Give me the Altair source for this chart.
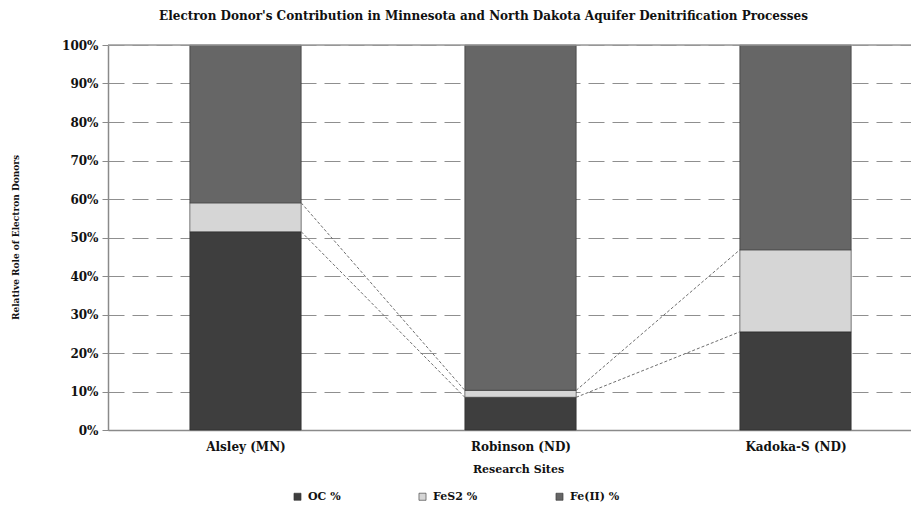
import json
import altair as alt
import pandas as pd

# ---- data ----
sites = ["Alsley (MN)", "Robinson (ND)", "Kadoka-S (ND)"]
series = ["OC %", "FeS2 %", "Fe(II) %"]
oc = [51.5, 8.5, 25.5]
fes2 = [7.5, 1.8, 21.3]
fe2 = [41.0, 89.7, 53.2]
y_ticks = [0, 10, 20, 30, 40, 50, 60, 70, 80, 90, 100]

# ---- styles ----
colors = ["#3e3e3e", "#d6d6d6", "#666666"]
HW = 0.2025  # half bar width in category units
FONT = "DejaVu Serif"

values = [oc, fes2, fe2]
rows = []
tops = []
for i, s in enumerate(sites):
    base = 0.0
    t = []
    for k, name in enumerate(series):
        v = values[k][i]
        rows.append({"site": s, "idx": i, "x0": i - HW, "x1": i + HW,
                     "series": name, "order": k, "y0": base, "y1": base + v})
        base += v
        t.append(base)
    tops.append(t)
bars = pd.DataFrame(rows)

lines = []
for i in range(len(sites) - 1):
    for k in range(len(series) - 1):
        lines.append({"x0": i + HW, "x1": i + 1 - HW,
                      "y0": tops[i][k], "y1": tops[i + 1][k]})
lines = pd.DataFrame(lines)

xscale = alt.Scale(domain=[-0.5, 2.42], nice=False, zero=False)
yscale = alt.Scale(domain=[0, 100], nice=False)

label_expr = json.dumps(sites) + "[datum.value]"

xaxis = alt.Axis(values=[0, 1, 2], labelExpr=label_expr, grid=False, ticks=False,
                 domainColor="#8a8a8a", domainWidth=1.5,
                 labelFont=FONT, labelFontWeight="bold", labelFontSize=12,
                 labelColor="#111", labelPadding=11,
                 title="Research Sites", titleFont=FONT, titleFontWeight="bold",
                 titleFontSize=11, titleColor="#111", titleX=410, titleY=39,
                 titleBaseline="middle")
yaxis = alt.Axis(values=y_ticks, labelExpr="datum.value + '%'", labelOverlap=False,
                 grid=True, gridDash=[16, 8], gridColor="#8f8f8f", gridWidth=1,
                 domainColor="#8a8a8a", domainWidth=1.5,
                 tickColor="#8a8a8a", tickSize=6,
                 labelFont=FONT, labelFontWeight="bold", labelFontSize=12,
                 labelColor="#111", labelPadding=4,
                 title="Relative Role of Electron Donors", titleFont=FONT,
                 titleFontWeight="bold", titleFontSize=9, titleColor="#111",
                 titleX=-93, titleY=192, titleAngle=270,
                 titleAlign="center", titleBaseline="middle")

bar_layer = alt.Chart(bars).mark_rect(stroke="#2a2a2a", strokeWidth=0.6).encode(
    x=alt.X("x0:Q", scale=xscale, axis=xaxis),
    x2="x1:Q",
    y=alt.Y("y0:Q", scale=yscale, axis=yaxis),
    y2="y1:Q",
    color=alt.Color("series:N", scale=alt.Scale(domain=series, range=colors),
                    legend=alt.Legend(title=None, orient="none", direction="horizontal",
                                      legendX=184, legendY=446, symbolType="square",
                                      symbolSize=50, symbolStrokeColor="#333",
                                      symbolStrokeWidth=0.6, columnPadding=76,
                                      labelFont=FONT, labelFontWeight="bold",
                                      labelFontSize=11, labelColor="#111", labelOffset=5)),
)

series_lines = alt.Chart(lines).mark_rule(
    color="#6e6e6e", strokeDash=[3, 2], strokeWidth=1).encode(
    x=alt.X("x0:Q", scale=xscale, axis=xaxis), x2="x1:Q",
    y=alt.Y("y0:Q", scale=yscale, axis=yaxis), y2="y1:Q")

top_rule = alt.Chart(pd.DataFrame({"y0": [y_ticks[-1]]})).mark_rule(
    color="#9a9a9a", strokeWidth=1.5).encode(y=alt.Y("y0:Q", scale=yscale, axis=yaxis))

chart = alt.layer(bar_layer, series_lines, top_rule).properties(
    width=803, height=385,
    autosize=alt.AutoSizeParams(type="none"),
    padding={"left": 100, "top": 37, "right": 0, "bottom": 90},
    title=alt.Title("Electron Donor's Contribution in Minnesota and North Dakota Aquifer Denitrification Processes",
                    font=FONT, fontWeight="bold", fontSize=12, color="#111",
                    anchor="middle", offset=16, dx=-26),
).configure_view(stroke=None).configure(background="white")

chart.save("out.html", embed_options={"renderer": "svg", "actions": False})
